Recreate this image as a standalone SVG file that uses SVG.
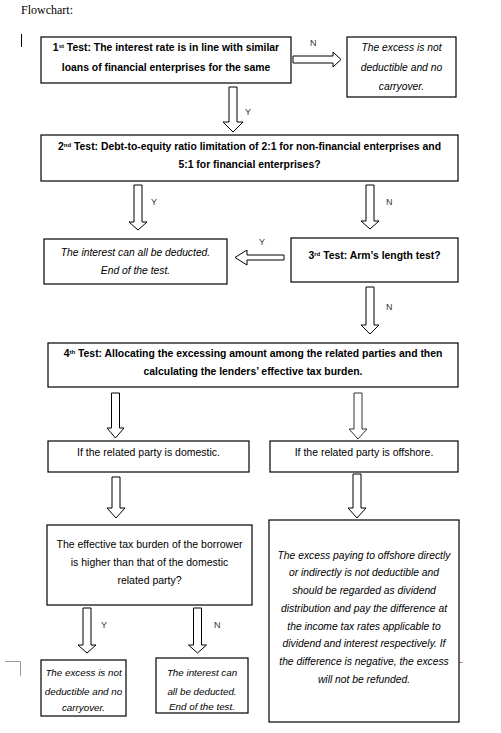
<svg xmlns="http://www.w3.org/2000/svg" width="501" height="733" viewBox="0 0 501 733">
<style>
.box{fill:#fff;stroke:#000;stroke-width:1.2}
.arr{fill:#fff;stroke:#000;stroke-width:1}
.b{font-family:"Liberation Sans",Arial,sans-serif;font-weight:bold;font-size:10.4px;text-anchor:middle;fill:#000}
.r{font-family:"Liberation Sans",Arial,sans-serif;font-size:10.5px;text-anchor:middle;fill:#000}
.i{font-family:"Liberation Sans",Arial,sans-serif;font-style:italic;font-size:10.3px;text-anchor:middle;fill:#000}
.s{font-size:9.8px}
.l{font-family:"Liberation Sans",Arial,sans-serif;font-size:9px;fill:#333}
.sup{font-size:6px}
</style>
<rect width="501" height="733" fill="#fff"/>
<text x="21" y="14" style="font-family:'Liberation Serif','Times New Roman',serif;font-size:12px">Flowchart:</text>
<line x1="21.5" y1="34" x2="21.5" y2="47" stroke="#000" stroke-width="1"/>
<polyline points="5,661.5 20.5,661.5 20.5,676" fill="none" stroke="#999" stroke-width="1"/>
<line x1="459" y1="662.5" x2="463" y2="662.5" stroke="#999" stroke-width="1"/>

<g id="connectors">
<polygon class="arr" points="229,87 237,87 237,122 243,122 233,132 223,122 229,122"/>
<text class="l" x="245" y="115">Y</text>
<polygon class="arr" points="293,56 333,56 333,52 341,59.5 333,67 333,63 293,63"/>
<text class="l" x="310" y="46">N</text>
<polygon class="arr" points="134,185 142,185 142,222 147,222 138,230 129,222 134,222"/>
<text class="l" x="151" y="205">Y</text>
<polygon class="arr" points="366,185 374,185 374,221 379,221 370,229 361,221 366,221"/>
<text class="l" x="386" y="205">N</text>
<polygon class="arr" points="284,255 247,255 247,250 235,257.5 247,265 247,260 284,260"/>
<text class="l" x="259" y="245">Y</text>
<polygon class="arr" points="366,287 374,287 374,325 379,325 370,334 361,325 366,325"/>
<text class="l" x="386" y="310">N</text>
<polygon class="arr" points="111.5,393 119.5,393 119.5,428 124,428 115.5,438 107,428 111.5,428"/>
<polygon class="arr" style="stroke:#333" points="354,393 362,393 362,429 367,429 358,439 349,429 354,429"/>
<polygon class="arr" points="112,477 120,477 120,508 125,508 116,518 107,508 112,508"/>
<polygon class="arr" points="353,474 361,474 361,508 366,508 357,518 348,508 353,508"/>
<polygon class="arr" points="83,608 91,608 91,645 96,645 87,653 78,645 83,645"/>
<text class="l" x="101" y="628">Y</text>
<polygon class="arr" points="193.5,608 201.5,608 201.5,645 206.5,645 197.5,653 188.5,645 193.5,645"/>
<text class="l" x="214" y="628">N</text>
</g>

<g id="test1">
<rect class="box" x="41" y="37" width="250" height="46"/>
<text class="b" x="166" y="51">1<tspan class="sup" dy="-3.5">st</tspan><tspan dy="3.5"> Test: The interest rate is in line with similar</tspan></text>
<text class="b" x="166" y="71">loans of financial enterprises for the same</text>
</g>
<g id="notDeductible1">
<rect class="box" x="347" y="37" width="109" height="60"/>
<text class="i" x="401.5" y="51">The excess is not</text>
<text class="i" x="401.5" y="71">deductible and no</text>
<text class="i" x="401.5" y="90">carryover.</text>
</g>
<g id="test2">
<rect class="box" x="41" y="135" width="417" height="46"/>
<text class="b" x="249.5" y="150">2<tspan class="sup" dy="-3.5">nd</tspan><tspan dy="3.5"> Test: Debt-to-equity ratio limitation of 2:1 for non-financial enterprises and</tspan></text>
<text class="b" x="249.5" y="168">5:1 for financial enterprises?</text>
</g>
<g id="deducted1">
<rect class="box" x="44" y="239" width="183" height="45"/>
<text class="i" x="135.5" y="256">The interest can all be deducted.</text>
<text class="i" x="135.5" y="274">End of the test.</text>
</g>
<g id="test3">
<rect class="box" x="291" y="238" width="167" height="44"/>
<text class="b" x="374.5" y="259">3<tspan class="sup" dy="-3.5">rd</tspan><tspan dy="3.5"> Test: Arm’s length test?</tspan></text>
</g>
<g id="test4">
<rect class="box" x="48" y="343" width="410" height="44"/>
<text class="b" x="253" y="357">4<tspan class="sup" dy="-3.5">th</tspan><tspan dy="3.5"> Test: Allocating the excessing amount among the related parties and then</tspan></text>
<text class="b" x="253" y="375">calculating the lenders’ effective tax burden.</text>
</g>
<g id="domestic">
<rect class="box" x="48" y="441" width="201" height="31"/>
<text class="r" x="148.5" y="456">If the related party is domestic.</text>
</g>
<g id="offshore">
<rect class="box" x="270" y="441" width="188" height="31"/>
<text class="r" x="364" y="456">If the related party is offshore.</text>
</g>
<g id="effectiveTax">
<rect class="box" x="47" y="525" width="205" height="80"/>
<text class="r" x="149.5" y="548">The effective tax burden of the borrower</text>
<text class="r" x="149.5" y="566">is higher than that of the domestic</text>
<text class="r" x="149.5" y="584">related party?</text>
</g>
<g id="offshoreResult">
<rect class="box" x="269" y="520" width="190" height="202"/>
<text class="i" x="364" y="559">The excess paying to offshore directly</text>
<text class="i" x="364" y="576">or indirectly is not deductible and</text>
<text class="i" x="364" y="594">should be regarded as dividend</text>
<text class="i" x="364" y="612">distribution and pay the difference at</text>
<text class="i" x="364" y="630">the income tax rates applicable to</text>
<text class="i" x="364" y="647">dividend and interest respectively. If</text>
<text class="i" x="364" y="665">the difference is negative, the excess</text>
<text class="i" x="364" y="683">will not be refunded.</text>
</g>
<g id="notDeductible2">
<rect class="box" x="41" y="660" width="85" height="56"/>
<text class="i s" x="83.5" y="676">The excess is not</text>
<text class="i s" x="83.5" y="695">deductible and no</text>
<text class="i s" x="83.5" y="711">carryover.</text>
</g>
<g id="deducted2">
<rect class="box" x="156" y="658" width="92" height="55"/>
<text class="i s" x="202" y="676">The interest can</text>
<text class="i s" x="202" y="695">all be deducted.</text>
<text class="i s" x="202" y="710">End of the test.</text>
</g>
</svg>
